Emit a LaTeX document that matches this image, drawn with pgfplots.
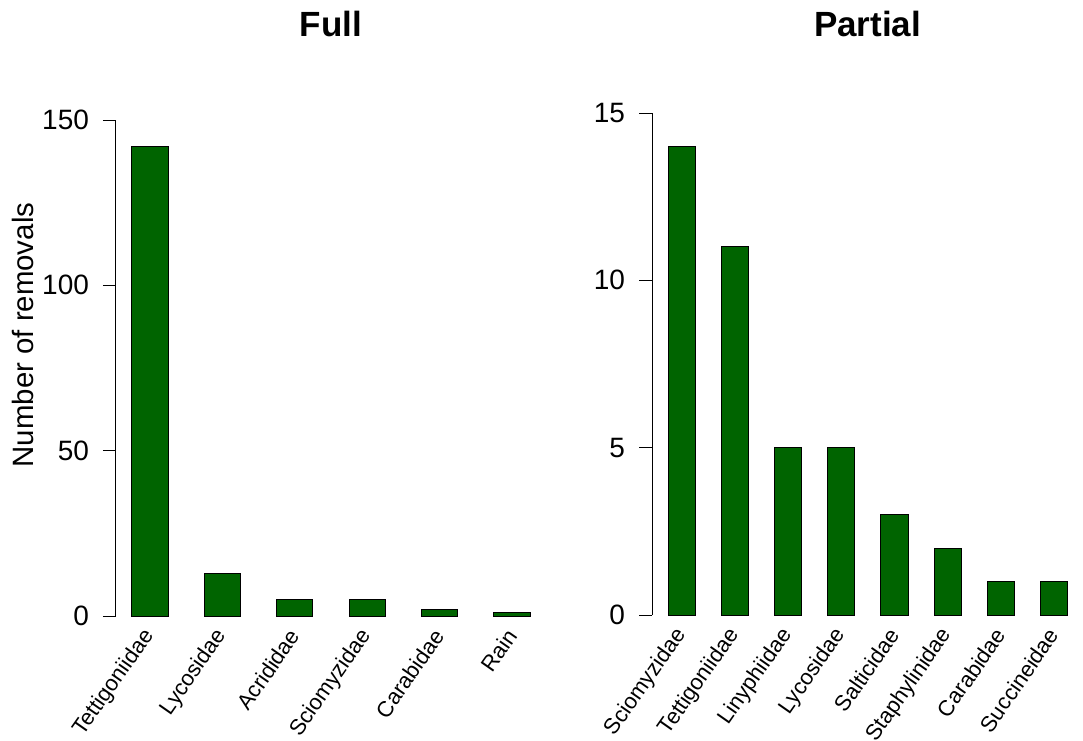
\documentclass[border=0pt]{standalone}
\usepackage{pgfplots}
\pgfplotsset{compat=1.18}
\usepackage{fontspec}
\setmainfont{Liberation Sans}
\definecolor{dg}{HTML}{006400}
\pgfplotsset{
  rbar/.style={
    scale only axis,
    anchor=south west,
    axis y line*=left, axis x line*=bottom,
    x axis line style={draw=none},
    y axis line style={black, line width=0.5pt},
    xtick style={draw=none},
    ytick style={black, line width=0.5pt},
    tick align=outside,
    major tick length=6.5pt,
    /pgf/number format/assume math mode=true,
    yticklabel style={font=\fontsize{14}{16}\selectfont, anchor=east, xshift=-3.5pt},
    xticklabel style={font=\fontsize{11}{13}\selectfont, rotate=55, anchor=east, inner sep=0pt},
    xticklabel shift=1.5pt,
    xtick=data,
    ymin=0,
    ybar,
    clip=false,
  }
}
\begin{document}
\begin{tikzpicture}
\path[use as bounding box] (0pt,0pt) rectangle (541.5pt,-370pt);
\begin{axis}[rbar,
  at={(58pt,-308pt)},
  width=215pt, height=248pt,
  xmin=-0.47, xmax=5.47, ymax=150,
  ytick={0,50,100,150},
  bar width=0.5,
  xticklabels={Tettigoniidae,Lycosidae,Acrididae,Sciomyzidae,Carabidae,Rain},
  title={Full},
  title style={font=\bfseries\fontsize{17.5}{20}\selectfont, at={(rel axis cs:0.5,1)}, anchor=base, yshift=36pt},
  ylabel={Number of removals},
  ylabel style={font=\fontsize{14.7}{16}\selectfont, at={(rel axis cs:-0.193,0.5665)}, anchor=base},
]
\addplot[fill=dg, draw=black, line width=0.5pt] coordinates {(0,142) (1,13) (2,5) (3,5) (4,2) (5,1)};
\end{axis}
\begin{axis}[rbar,
  at={(326pt,-307.5pt)},
  width=215.5pt, height=251pt,
  xmin=-0.565, xmax=7.55, ymax=15,
  ytick={0,5,10,15},
  bar width=0.51,
  xticklabels={Sciomyzidae,Tettigoniidae,Linyphiidae,Lycosidae,Salticidae,Staphylinidae,Carabidae,Succineidae},
  title={Partial},
  title style={font=\bfseries\fontsize{17.5}{20}\selectfont, at={(rel axis cs:0.5,1)}, anchor=base, yshift=32.5pt},
]
\addplot[fill=dg, draw=black, line width=0.5pt] coordinates {(0,14) (1,11) (2,5) (3,5) (4,3) (5,2) (6,1) (7,1)};
\end{axis}
\end{tikzpicture}
\end{document}
